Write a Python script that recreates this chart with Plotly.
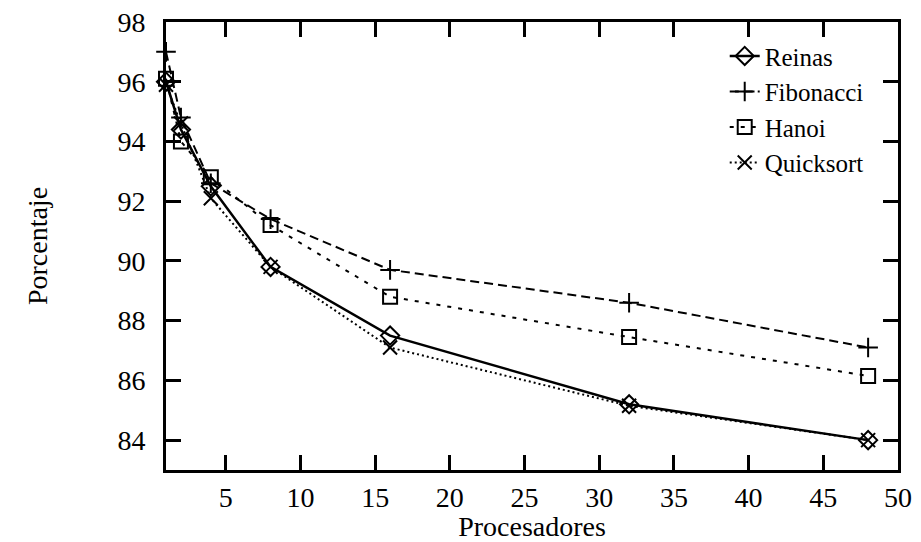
from plotly import graph_objects as go

# procesadores en el eje x
procesadores = [1, 2, 4, 8, 16, 32, 48]

# porcentajes
reinas = [96.0, 94.4, 92.5, 89.8, 87.5, 85.2, 84.0]
fibonacci = [97.0, 94.8, 92.6, 91.4, 89.7, 88.6, 87.1]
hanoi = [96.1, 94.0, 92.8, 91.2, 88.8, 87.45, 86.15]
quicksort = [95.9, 94.6, 92.1, 89.8, 87.1, 85.15, 84.0]

x_ticks = [5, 10, 15, 20, 25, 30, 35, 40, 45, 50]
y_ticks = [84, 86, 88, 90, 92, 94, 96, 98]

fuente = "'Liberation Serif', 'DejaVu Serif', serif"

series = [
    ("Reinas", reinas, "diamond-open", "solid", 2.5),
    ("Fibonacci", fibonacci, "cross-thin-open", "9px,5px", 2),
    ("Hanoi", hanoi, "square-open", "4px,7px", 2),
    ("Quicksort", quicksort, "x-thin-open", "2px,3px", 2),
]

fig = go.Figure()

for nombre, valores, simbolo, trazo, ancho in series:
    fig.add_trace(go.Scatter(
        x=procesadores, y=valores, name=nombre,
        mode="lines+markers", cliponaxis=False,
        line=dict(color="black", width=ancho, dash=trazo),
        marker=dict(symbol=simbolo, size=14, color="black",
                    line=dict(color="black", width=2)),
    ))

eje = dict(
    showline=True, linecolor="black", linewidth=3,
    ticks="inside", ticklen=15, tickwidth=3, tickcolor="black",
    mirror="allticks", showgrid=False, zeroline=False, automargin=False,
    ticklabeloverflow="allow",
    tickfont=dict(family=fuente, size=28, color="black"),
)

fig.update_xaxes(range=[1, 50], tickvals=x_ticks, ticklabelstandoff=0,
                 title=dict(text="Procesadores", standoff=4,
                            font=dict(family=fuente, size=28, color="black")),
                 **eje)
fig.update_yaxes(range=[83, 98], tickvals=y_ticks, ticklabelstandoff=12,
                 title=dict(text="Porcentaje", standoff=62,
                            font=dict(family=fuente, size=28, color="black")),
                 **eje)

# la pagina deja 8 px de margen en el body
fig.update_layout(
    width=913, height=534,
    margin=dict(l=158, r=23, t=14, b=72),
    paper_bgcolor="white", plot_bgcolor="white",
    showlegend=True,
    legend=dict(x=0.96, y=0.975, xanchor="right", yanchor="top",
                bgcolor="rgba(0,0,0,0)", tracegroupgap=0,
                font=dict(family=fuente, size=25, color="black")),
)

fig.write_html("out.html")
